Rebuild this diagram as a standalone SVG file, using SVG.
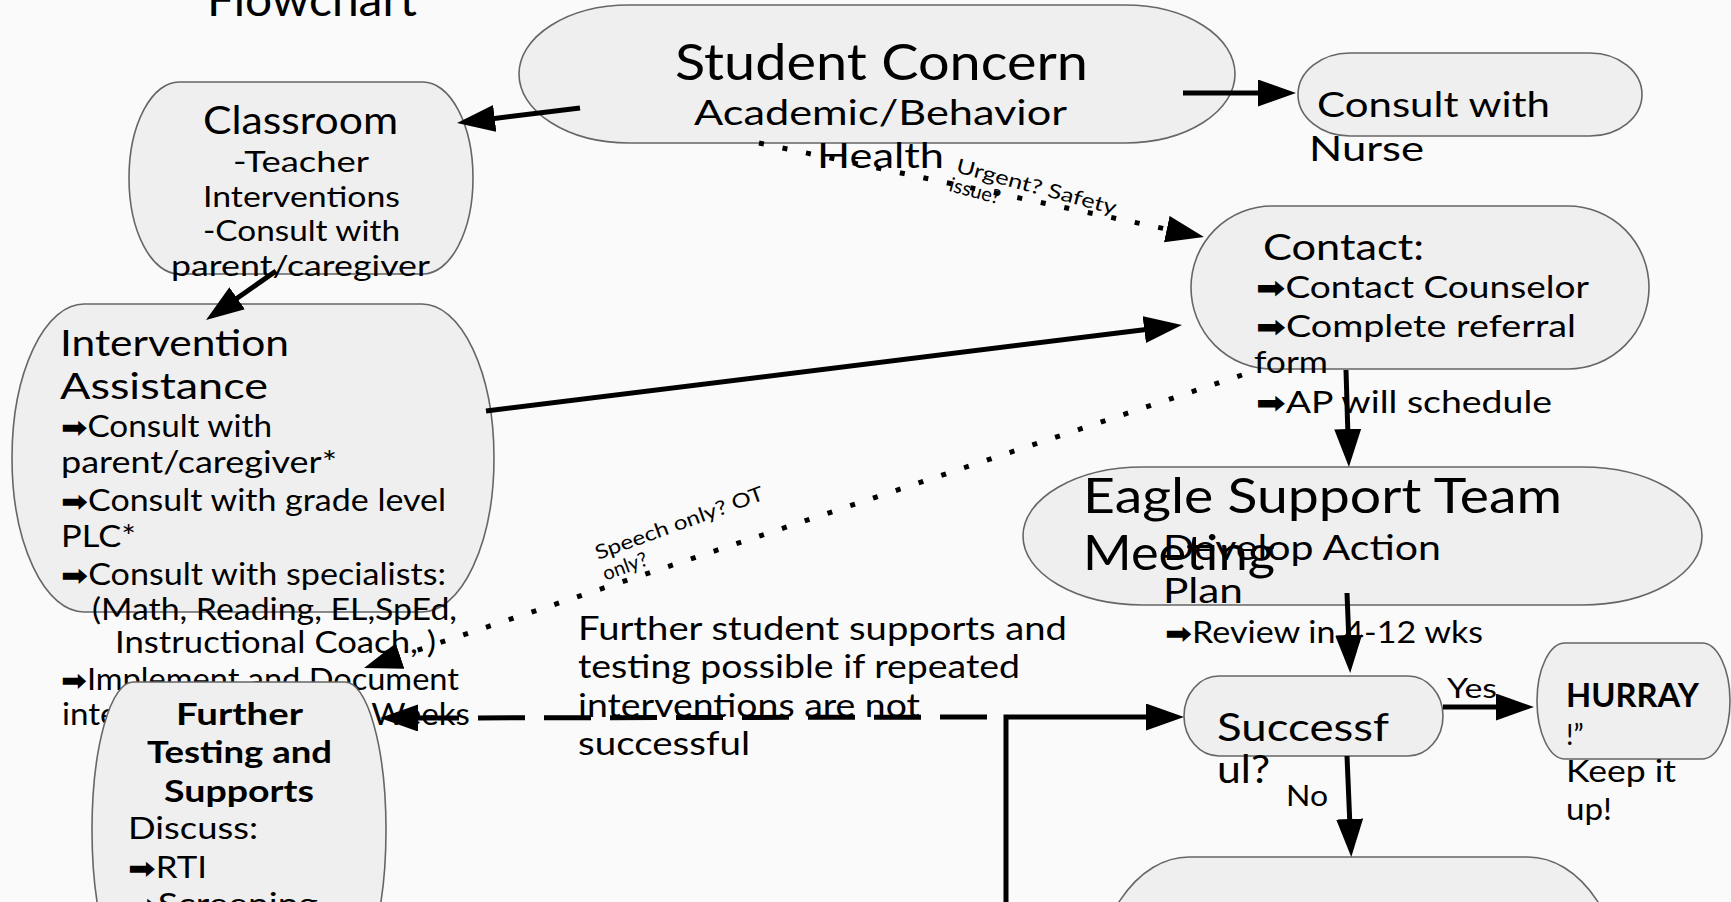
<svg xmlns="http://www.w3.org/2000/svg" width="1731" height="902" viewBox="0 0 1731 902">
<defs>
<style>
text{font-family:Lato,"Noto Sans","Liberation Sans",sans-serif;fill:#000}
.shape{fill:#efefef;stroke:#666;stroke-width:1.6}
.b{font-weight:bold}
.bul{font-family:"DejaVu Sans",sans-serif;font-size:0.95em;font-weight:bold}
.conn{stroke:#000;stroke-width:5;fill:none}
.dot{stroke-dasharray:5 19}
.dash{stroke-dasharray:47 19;stroke-dashoffset:49}
.lbl{font-size:20px}
</style>
<marker id="ah" markerUnits="userSpaceOnUse" markerWidth="40" markerHeight="28" viewBox="0 0 40 28" refX="8" refY="13.5" orient="auto"><path d="M0,0 L38,13.5 L0,27 Z" fill="#000"/></marker>
</defs>
<rect width="1731" height="902" fill="#fafafa"/>

<text x="207" y="16" font-size="46" textLength="210" lengthAdjust="spacingAndGlyphs">Flowchart</text>

<g id="student-concern">
<rect class="shape" x="519" y="5" width="716" height="138" rx="110" ry="69"/>
<text x="675" y="80" font-size="50" textLength="413" lengthAdjust="spacingAndGlyphs">Student Concern</text>
<text x="694" y="125" font-size="34" textLength="373" lengthAdjust="spacingAndGlyphs">Academic/Behavior</text>
<text x="817" y="168" font-size="34" textLength="127" lengthAdjust="spacingAndGlyphs">Health</text>
</g>

<g id="classroom">
<rect class="shape" x="129" y="82" width="344" height="192" rx="50" ry="96"/>
<text x="203" y="134" font-size="38" textLength="195" lengthAdjust="spacingAndGlyphs">Classroom</text>
<text x="233" y="172" font-size="28" textLength="136" lengthAdjust="spacingAndGlyphs">-Teacher</text>
<text x="203" y="207" font-size="28" textLength="197" lengthAdjust="spacingAndGlyphs">Interventions</text>
<text x="203" y="241" font-size="28" textLength="197" lengthAdjust="spacingAndGlyphs">-Consult with</text>
<text x="171" y="276" font-size="28" textLength="259" lengthAdjust="spacingAndGlyphs">parent/caregiver</text>
</g>

<g id="nurse">
<rect class="shape" x="1298" y="53" width="344" height="83" rx="52" ry="41.5"/>
<text x="1317" y="117" font-size="34" textLength="233" lengthAdjust="spacingAndGlyphs">Consult with</text>
<text x="1309" y="161" font-size="34" textLength="115" lengthAdjust="spacingAndGlyphs">Nurse</text>
</g>

<g id="contact">
<rect class="shape" x="1191" y="206" width="458" height="163" rx="81" ry="81.5"/>
<text x="1263" y="260" font-size="36" textLength="161" lengthAdjust="spacingAndGlyphs">Contact:</text>
<text x="1256" y="298" font-size="31" textLength="333" lengthAdjust="spacingAndGlyphs"><tspan class="bul">➡</tspan>Contact Counselor</text>
<text x="1256" y="337" font-size="31" textLength="320" lengthAdjust="spacingAndGlyphs"><tspan class="bul">➡</tspan>Complete referral</text>
<text x="1254" y="373" font-size="31" textLength="74" lengthAdjust="spacingAndGlyphs">form</text>
<text x="1256" y="413" font-size="31" textLength="296" lengthAdjust="spacingAndGlyphs"><tspan class="bul">➡</tspan>AP will schedule</text>
</g>

<g id="intervention-assistance">
<rect class="shape" x="12" y="304" width="482" height="308" rx="72" ry="154"/>
<text x="60" y="356" font-size="36" textLength="229" lengthAdjust="spacingAndGlyphs">Intervention</text>
<text x="60" y="399" font-size="36" textLength="208" lengthAdjust="spacingAndGlyphs">Assistance</text>
<text x="61" y="437" font-size="30" textLength="211" lengthAdjust="spacingAndGlyphs"><tspan class="bul">➡</tspan>Consult with</text>
<text x="61" y="473" font-size="30" textLength="276" lengthAdjust="spacingAndGlyphs">parent/caregiver*</text>
<text x="61" y="511" font-size="30" textLength="385" lengthAdjust="spacingAndGlyphs"><tspan class="bul">➡</tspan>Consult with grade level</text>
<text x="61" y="547" font-size="30" textLength="75" lengthAdjust="spacingAndGlyphs">PLC*</text>
<text x="61" y="585" font-size="30" textLength="385" lengthAdjust="spacingAndGlyphs"><tspan class="bul">➡</tspan>Consult with specialists:</text>
<text x="92" y="620" font-size="30" textLength="365" lengthAdjust="spacingAndGlyphs">(Math, Reading, EL,SpEd,</text>
<text x="115" y="653" font-size="30" textLength="321" lengthAdjust="spacingAndGlyphs">Instructional Coach, )</text>
<text x="61" y="690" font-size="30" textLength="398" lengthAdjust="spacingAndGlyphs"><tspan class="bul">➡</tspan>Implement and Document</text>
<text x="62" y="725" font-size="30" textLength="408" lengthAdjust="spacingAndGlyphs">interventions for 6-8 Weeks</text>
</g>

<g id="further-testing">
<rect class="shape" x="92" y="682" width="294" height="296" rx="41" ry="148"/>
<text class="b" x="176" y="725" font-size="30" textLength="127" lengthAdjust="spacingAndGlyphs">Further</text>
<text class="b" x="147" y="763" font-size="30" textLength="185" lengthAdjust="spacingAndGlyphs">Testing and</text>
<text class="b" x="164" y="802" font-size="30" textLength="150" lengthAdjust="spacingAndGlyphs">Supports</text>
<text x="128" y="839" font-size="30" textLength="130" lengthAdjust="spacingAndGlyphs">Discuss:</text>
<text x="128" y="878" font-size="30" textLength="79" lengthAdjust="spacingAndGlyphs"><tspan class="bul">➡</tspan>RTI</text>
<text x="128" y="915" font-size="30" textLength="190" lengthAdjust="spacingAndGlyphs"><tspan class="bul">➡</tspan>Screening</text>
</g>

<g id="note">
<text x="578" y="640" font-size="32" textLength="489" lengthAdjust="spacingAndGlyphs">Further student supports and</text>
<text x="578" y="678" font-size="32" textLength="442" lengthAdjust="spacingAndGlyphs">testing possible if repeated</text>
<text x="578" y="717" font-size="32" textLength="342" lengthAdjust="spacingAndGlyphs">interventions are not</text>
<text x="578" y="755" font-size="32" textLength="172" lengthAdjust="spacingAndGlyphs">successful</text>
</g>

<g id="eagle-support-team">
<rect class="shape" x="1023" y="467" width="679" height="138" rx="120" ry="69"/>
<text x="1083" y="513" font-size="48" textLength="479" lengthAdjust="spacingAndGlyphs">Eagle Support Team</text>
<text x="1083" y="570" font-size="48" textLength="192" lengthAdjust="spacingAndGlyphs">Meeting</text>
<text x="1163" y="560" font-size="34" textLength="278" lengthAdjust="spacingAndGlyphs">Develop Action</text>
<text x="1163" y="603" font-size="34" textLength="80" lengthAdjust="spacingAndGlyphs">Plan</text>
<text x="1165" y="643" font-size="30" textLength="318" lengthAdjust="spacingAndGlyphs"><tspan class="bul">➡</tspan>Review in 4-12 wks</text>
</g>

<g id="successful">
<rect class="shape" x="1184" y="676" width="259" height="80" rx="35" ry="40"/>
<text x="1217" y="741" font-size="38" textLength="172" lengthAdjust="spacingAndGlyphs">Successf</text>
<text x="1217" y="783" font-size="38" textLength="53" lengthAdjust="spacingAndGlyphs">ul?</text>
</g>

<g id="hurray">
<rect class="shape" x="1537" y="643" width="193" height="116" rx="28" ry="58"/>
<text class="b" x="1566" y="707" font-size="33" textLength="133" lengthAdjust="spacingAndGlyphs">HURRAY</text>
<text x="1566" y="745" font-size="28">!”</text>
<text x="1566" y="782" font-size="30" textLength="110" lengthAdjust="spacingAndGlyphs">Keep it</text>
<text x="1566" y="820" font-size="30" textLength="46" lengthAdjust="spacingAndGlyphs">up!</text>
</g>

<g id="next-step">
<rect class="shape" x="1091" y="857" width="535" height="300" rx="98" ry="150"/>
</g>

<g id="connectors">
<line class="conn" x1="580" y1="108" x2="486.8" y2="119.4" marker-end="url(#ah)"/>
<line class="conn" x1="1183" y1="93" x2="1266" y2="93" marker-end="url(#ah)"/>
<line class="conn dot" x1="759" y1="143" x2="1174.6" y2="230.8" marker-end="url(#ah)"/>
<line class="conn" x1="276" y1="271" x2="230.6" y2="302.8" marker-end="url(#ah)"/>
<line class="conn" x1="486" y1="411" x2="1152.2" y2="328.7" marker-end="url(#ah)"/>
<line class="conn dot" x1="1242" y1="375" x2="392.5" y2="658.5" marker-end="url(#ah)"/>
<line class="conn" x1="1346" y1="370" x2="1348" y2="437" marker-end="url(#ah)"/>
<line class="conn" x1="1347" y1="593" x2="1349" y2="643" marker-end="url(#ah)"/>
<line class="conn" x1="1443" y1="707" x2="1504" y2="707" marker-end="url(#ah)"/>
<line class="conn" x1="1347" y1="756" x2="1350" y2="827" marker-end="url(#ah)"/>
<path class="conn" d="M1006,910 V717 H1154" marker-end="url(#ah)"/>
<path class="conn dash" d="M1004,717 L410,718" marker-end="url(#ah)"/>
<text class="lbl" transform="translate(955,172) rotate(15)"><tspan x="0" y="0" textLength="165" lengthAdjust="spacingAndGlyphs">Urgent? Safety</tspan><tspan x="-2" y="20">issue?</tspan></text>
<text class="lbl" transform="translate(598,560) rotate(-20)"><tspan x="0" y="0" textLength="178" lengthAdjust="spacingAndGlyphs">Speech only? OT</tspan><tspan x="0" y="22">only?</tspan></text>
<text x="1447" y="698" font-size="26" textLength="50" lengthAdjust="spacingAndGlyphs">Yes</text>
<text x="1286" y="806" font-size="28" textLength="42" lengthAdjust="spacingAndGlyphs">No</text>
</g>
</svg>
